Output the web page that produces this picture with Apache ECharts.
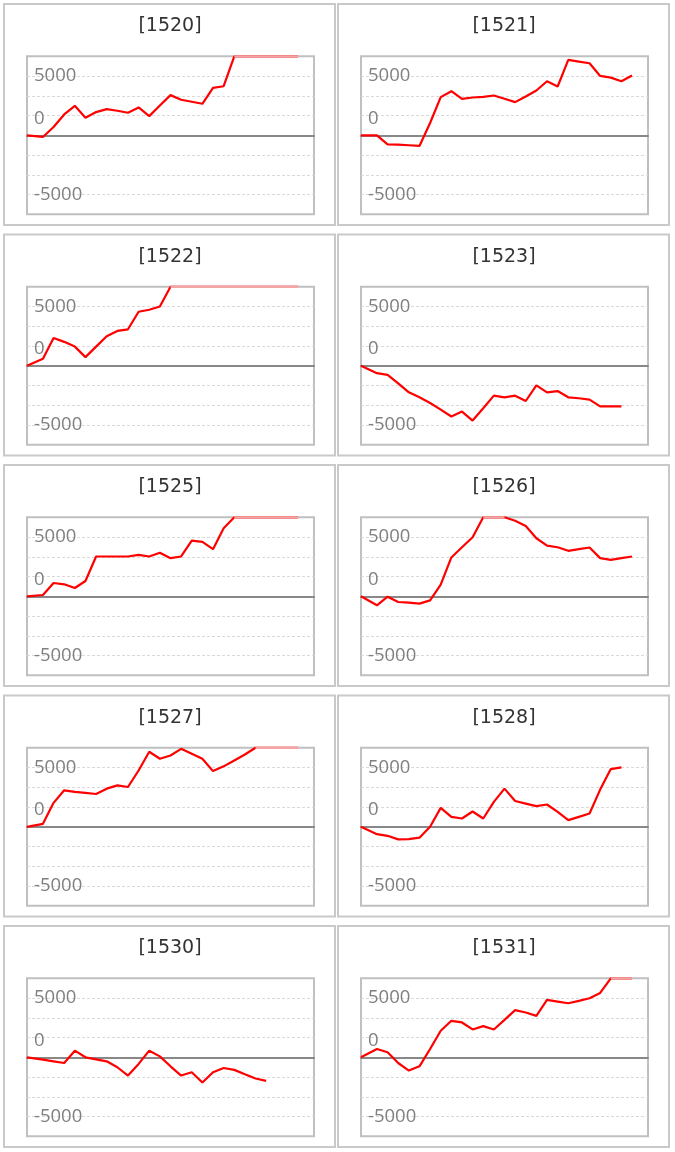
<!DOCTYPE html>
<html>
<head>
<meta charset="utf-8">
<script src="https://cdn.jsdelivr.net/npm/echarts@6/dist/echarts.min.js"></script>
<style>
html,body{margin:0;padding:0;background:#fff;}
#c{position:absolute;left:0;top:0;width:675px;height:1152px;}
</style>
</head>
<body>
<div id="c"></div>
<script>
// ---- data ----
const codes = ['[1520]','[1521]','[1522]','[1523]','[1525]','[1526]','[1527]','[1528]','[1530]','[1531]'];
const dayIndex = [0,1.5,2.5,3.5,4.5,5.5,6.5,7.5,8.5,9.5,10.5,11.5,12.5,13.5,14.5,15.5,16.5,17.5,18.5,19.5,20.5,21.5,22.5,23.5,24.5,25.5];
const s1520 = [0,-140,700,1760,2490,1480,1960,2210,2070,1900,2350,1620,2520,3390,3000,2830,2660,4000,4140,6667,6667,6667,6667,6667,6667,6667];
const s1521 = [0,0,-760,-780,-840,-900,1040,3220,3720,3080,3190,3250,3360,3080,2800,3280,3780,4560,4120,6360,6220,6080,5010,4870,4560,5040];
const s1522 = [0,590,2350,2020,1620,730,1620,2490,2940,3080,4560,4730,5010,6667,6667,6667,6667,6667,6667,6667,6667,6667,6667,6667,6667,6667];
const s1523 = [0,-620,-760,-1480,-2240,-2660,-3140,-3700,-4280,-3860,-4620,-3580,-2520,-2660,-2520,-2970,-1650,-2240,-2130,-2660,-2740,-2860,-3420,-3420,-3420];
const s1525 = [0,110,1120,1010,700,1290,3360,3360,3360,3360,3500,3360,3670,3220,3360,4700,4590,3980,5740,6667,6667,6667,6667,6667,6667,6667];
const s1526 = [0,-760,-30,-480,-530,-620,-340,980,3280,4140,4980,6667,6667,6667,6380,5940,4900,4280,4140,3840,3980,4120,3220,3080,3220,3360];
const s1527 = [0,250,2020,3080,2940,2860,2770,3220,3500,3360,4750,6330,5740,6020,6580,6160,5740,4700,5100,5600,6100,6667,6667,6667,6667,6667];
const s1528 = [0,-620,-760,-1060,-1040,-920,0,1600,840,700,1290,700,2100,3220,2180,1960,1740,1880,1260,560,840,1120,3140,4870,5010];
const s1530 = [0,-200,-340,-480,560,0,-170,-340,-840,-1540,-560,560,80,-760,-1540,-1260,-2130,-1260,-900,-1060,-1430,-1790,-1990];
const s1531 = [0,700,420,-480,-1120,-760,700,2240,3080,2940,2350,2630,2350,3160,3980,3780,3500,4840,4700,4560,4760,4980,5430,6667,6667,6667];
const seriesList = [s1520,s1521,s1522,s1523,s1525,s1526,s1527,s1528,s1530,s1531];
const yTickValues = [5000, 0, -5000];
const yTickLabels = ['5000', '0', '-5000'];
const yMin = -20000 / 3, yMax = 20000 / 3, yStep = 5000 / 3;
const xMax = 27;
const capLevel = 6600;

// ---- layout ----
const FONT = '"DejaVu Sans", Verdana, sans-serif';
const LFONT = '"Open Sans", "Noto Sans", sans-serif';
const colLeft = [3, 337];
const panelW = 333, panelH = 223, rowPitch = 230.5, firstTop = 3;

const grids = [], xAxes = [], yAxes = [], series = [], graphics = [];
seriesList.forEach((vals, i) => {
  const col = i % 2, row = Math.floor(i / 2);
  const pl = colLeft[col], pt = firstTop + row * rowPitch;
  graphics.push({
    type: 'rect', silent: true, z: -10,
    shape: { x: pl + 1, y: pt + 1, width: panelW - 2, height: panelH - 2 },
    style: { fill: null, stroke: '#c9c9c9', lineWidth: 2 }
  });
  graphics.push({
    type: 'text', silent: true,
    x: pl + 167, y: pt + 23.5,
    style: { text: codes[i], fill: '#333333', font: '19px ' + FONT, align: 'center', verticalAlign: 'middle' }
  });
  grids.push({
    left: pl + 24, top: pt + 53.3, width: 287, height: 158,
    show: true, borderColor: '#c0c0c0', borderWidth: 2, backgroundColor: 'transparent'
  });
  xAxes.push({
    gridIndex: i, type: 'value', min: 0, max: xMax,
    axisLine: { show: true, onZero: true, lineStyle: { color: '#888888', width: 2 } },
    axisTick: { show: false }, axisLabel: { show: false }, splitLine: { show: false }
  });
  yAxes.push({
    gridIndex: i, type: 'value', min: yMin, max: yMax, interval: yStep,
    axisLine: { show: false }, axisTick: { show: false },
    splitLine: { show: true, showMinLine: false, showMaxLine: false,
      lineStyle: { color: '#d9d9d9', type: [3, 2], width: 1 } },
    axisLabel: {
      inside: true, margin: 7, color: '#808080', fontSize: 18.5, fontFamily: LFONT,
      formatter: function (v) {
        for (let k = 0; k < yTickValues.length; k++) {
          if (Math.abs(v - yTickValues[k]) < 1) {
            return yTickValues[k] === 0 ? '{z|' + yTickLabels[k] + '}' : yTickLabels[k];
          }
        }
        return '';
      },
      rich: { z: { padding: [0, 0, 34, 0], color: '#808080', fontSize: 18.5, fontFamily: LFONT } }
    }
  });
  series.push({
    type: 'line', xAxisIndex: i, yAxisIndex: i,
    data: vals.map((v, j) => [dayIndex[j], v]),
    showSymbol: false, symbol: 'none', clip: false, z: 3,
    lineStyle: { width: 2.2, color: '#ff0000' }, itemStyle: { color: '#ff0000' }
  });
  // capped (off-scale) stretch drawn in light red along the top edge
  series.push({
    type: 'line', xAxisIndex: i, yAxisIndex: i,
    data: vals.map((v, j) => [dayIndex[j], v >= capLevel ? v : null]),
    showSymbol: false, symbol: 'none', clip: false, z: 4, connectNulls: false,
    lineStyle: { width: 2.2, color: '#f2a6a6' }, itemStyle: { color: '#f2a6a6' }
  });
});

const chart = echarts.init(document.getElementById('c'), null, { renderer: 'canvas' });
chart.setOption({
  animation: false,
  backgroundColor: '#ffffff',
  textStyle: { fontFamily: FONT },
  grid: grids, xAxis: xAxes, yAxis: yAxes, series: series,
  graphic: { elements: graphics }
});
</script>
</body>
</html>
